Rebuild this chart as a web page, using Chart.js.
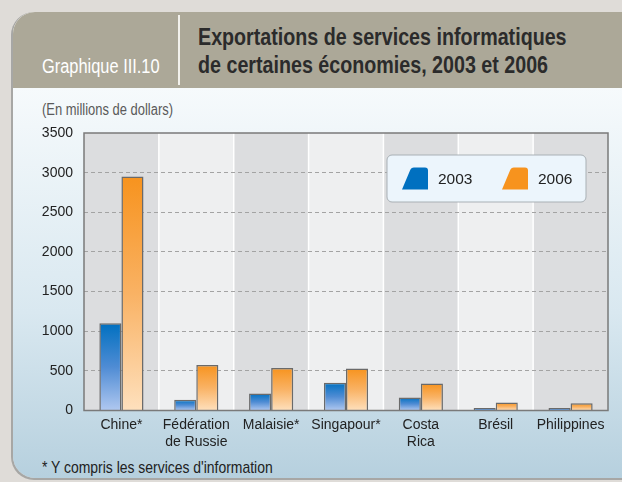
<!DOCTYPE html>
<html>
<head>
<meta charset="utf-8">
<script src="https://cdn.jsdelivr.net/npm/chart.js@4.4.1/dist/chart.umd.min.js"></script>
<style>
  html, body { margin:0; padding:0; width:622px; height:482px; overflow:hidden; background:#dfdcd8; }
  #card { position:absolute; left:13px; top:12px; width:640px; height:466px; border-radius:22px; overflow:hidden;
          background:linear-gradient(to bottom, #ffffff 0px, #f6fafc 76px, #d9e8f0 300px, #b6d0de 466px);
          box-shadow:-1px 1px 0 1px #a7a7a5; }
  #header { position:absolute; left:0; top:0; width:100%; height:76px; background:#aca898; }
  #sep { position:absolute; left:165px; top:3px; width:2px; height:70px; background:#f2f1ec; }
  .narrow { font-family:'Liberation Sans',Arial,sans-serif; transform:scaleX(0.82); transform-origin:0 0; white-space:nowrap; }
  #gnum { position:absolute; left:29px; top:44px; color:#ffffff; font-size:20px; line-height:20px; }
  #title { position:absolute; left:185px; top:10.7px; color:#2b2b2b; font-size:24px; font-weight:bold; line-height:28px; }
  #unit { position:absolute; left:29px; top:90px; color:#5a5a5a; font-size:15.8px; line-height:16px; }
  #foot { position:absolute; left:29px; top:447px; color:#222; font-size:17px; line-height:17px; }
  #cv { position:absolute; left:0; top:0; z-index:2; }
</style>
</head>
<body>
<div id="card">
  <div id="header"></div>
  <div id="sep"></div>
  <div id="gnum" class="narrow">Graphique III.10</div>
  <div id="title" class="narrow">Exportations de services informatiques<br>de certaines économies, 2003 et 2006</div>
  <div id="unit" class="narrow">(En millions de dollars)</div>
  <div id="foot" class="narrow">* Y compris les services d'information</div>
</div>
<canvas id="cv" width="622" height="482"></canvas>
<script>
const categories = ["Chine*", ["Fédération", "de Russie"], "Malaisie*", "Singapour*", ["Costa", "Rica"], "Brésil", "Philippines"];
const seriesNames = ["2003", "2006"];
const values2003 = [1100, 135, 215, 350, 165, 30, 30];
const values2006 = [2950, 575, 535, 530, 340, 100, 90];
const yTickValues = [0, 500, 1000, 1500, 2000, 2500, 3000, 3500];

const FONT = "'Liberation Sans',Arial,sans-serif";
const palette = {
  "2003": { top: "#0070c0", mid: "#4f8cd4", bottom: "#b0c8f0", solid: "#0070c0" },
  "2006": { top: "#f7931e", mid: "#f9b264", bottom: "#fee0bd", solid: "#f7931e" }
};

function barGradient(name) {
  return function (ctx) {
    const chart = ctx.chart;
    const p = palette[name];
    if (!chart.chartArea || ctx.raw === undefined) return p.solid;
    const ys = chart.scales.y;
    const top = ys.getPixelForValue(ctx.raw);
    const bot = ys.getPixelForValue(0);
    if (!isFinite(top) || !isFinite(bot) || bot - top < 1) return p.solid;
    const g = chart.ctx.createLinearGradient(0, top, 0, bot);
    g.addColorStop(0, p.top);
    g.addColorStop(0.5, p.mid);
    g.addColorStop(1, p.bottom);
    return g;
  };
}

const bandsPlugin = {
  id: "bands",
  beforeDraw(chart) {
    const { ctx, chartArea: a, scales: { x } } = chart;
    const n = categories.length;
    const w = (a.right - a.left) / n;
    ctx.save();
    for (let i = 0; i < n; i++) {
      const c = x.getPixelForValue(i);
      ctx.fillStyle = i % 2 === 0 ? "#dcdddf" : "#eeeff0";
      ctx.fillRect(c - w / 2, a.top, w, a.bottom - a.top);
    }
    ctx.strokeStyle = "#ffffff";
    ctx.lineWidth = 1.5;
    for (let i = 1; i < n; i++) {
      const xx = x.getPixelForValue(i) - w / 2;
      ctx.beginPath();
      ctx.moveTo(xx, a.top);
      ctx.lineTo(xx, a.bottom);
      ctx.stroke();
    }
    ctx.restore();
  },
  afterDatasetsDraw(chart) {
    const { ctx, chartArea: a } = chart;
    ctx.save();
    ctx.strokeStyle = "#7a7a7a";
    ctx.lineWidth = 1.5;
    ctx.strokeRect(a.left, a.top, a.right - a.left, a.bottom - a.top);
    const bx = 387, by = 155, bw = 199, bh = 47, r = 5;
    ctx.beginPath();
    ctx.roundRect(bx, by, bw, bh, r);
    ctx.fillStyle = "#ecf5fc";
    ctx.fill();
    ctx.strokeStyle = "#a9b0b5";
    ctx.lineWidth = 1;
    ctx.stroke();
    const items = [{ x: 402, name: seriesNames[0] }, { x: 502, name: seriesNames[1] }];
    items.forEach(it => {
      const x0 = it.x, y0 = 167.5, h = 22, w = 26, s = 9, rr = 3;
      ctx.beginPath();
      ctx.moveTo(x0, y0 + h);
      ctx.lineTo(x0 + s - 1, y0 + rr);
      ctx.quadraticCurveTo(x0 + s, y0, x0 + s + rr, y0);
      ctx.lineTo(x0 + w - rr, y0);
      ctx.quadraticCurveTo(x0 + w, y0, x0 + w, y0 + rr);
      ctx.lineTo(x0 + w, y0 + h);
      ctx.closePath();
      ctx.fillStyle = palette[it.name].solid;
      ctx.fill();
      ctx.fillStyle = "#222";
      ctx.font = "15.5px " + FONT;
      ctx.textBaseline = "middle";
      ctx.textAlign = "left";
      ctx.fillText(it.name, x0 + 36, y0 + h / 2 + 1);
    });
    ctx.restore();
  }
};

new Chart(document.getElementById("cv"), {
  type: "bar",
  data: {
    labels: categories,
    datasets: [
      { label: seriesNames[0], data: values2003, backgroundColor: barGradient("2003"), borderColor: "#6a6a6a", borderWidth: 1.5, borderSkipped: "bottom" },
      { label: seriesNames[1], data: values2006, backgroundColor: barGradient("2006"), borderColor: "#6a6a6a", borderWidth: 1.5, borderSkipped: "bottom" }
    ]
  },
  options: {
    responsive: false,
    animation: false,
    devicePixelRatio: 1,
    layout: { padding: { left: 30, right: 14, top: 133, bottom: 21.5 } },
    plugins: { legend: { display: false }, tooltip: { enabled: false }, title: { display: false } },
    datasets: { bar: { categoryPercentage: 0.59, barPercentage: 1.0 } },
    scales: {
      x: {
        grid: { display: false, drawTicks: false },
        border: { display: false },
        ticks: { color: "#222", font: { family: FONT, size: 14 }, padding: 6, maxRotation: 0, autoSkip: false },
        afterFit(s) { s.height = 50; }
      },
      y: {
        min: 0, max: 3500,
        afterBuildTicks(s) { s.ticks = yTickValues.map(v => ({ value: v })); },
        grid: {
          drawTicks: false,
          color: c => (c.tick && (c.tick.value === 0 || c.tick.value === 3500)) ? "rgba(0,0,0,0)" : "#a3a3a3",
          lineWidth: 1
        },
        border: { display: false, dash: [4, 3] },
        ticks: { color: "#222", font: { family: FONT, size: 14 }, padding: 11, callback: v => String(v) },
        afterFit(s) { s.width = 54; }
      }
    }
  },
  plugins: [bandsPlugin]
});
</script>
</body>
</html>
